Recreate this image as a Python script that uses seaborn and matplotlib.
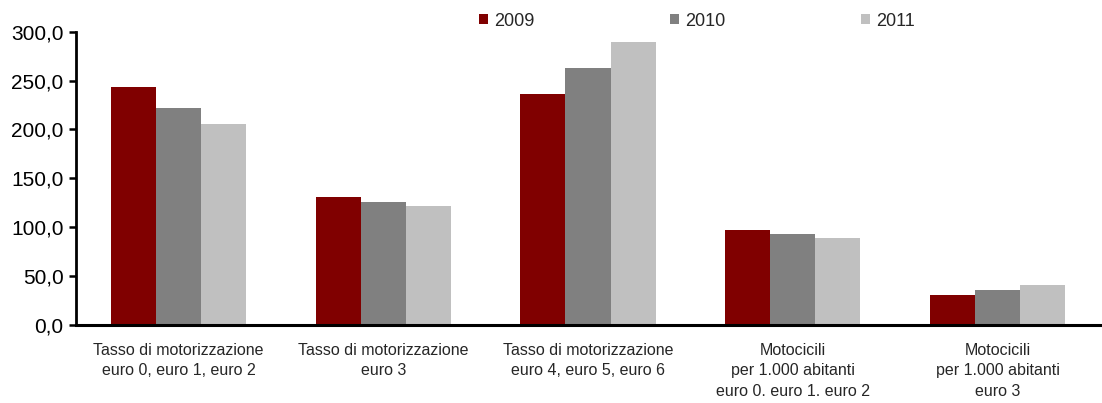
import pandas as pd
import seaborn as sns
import matplotlib.pyplot as plt
from matplotlib.ticker import FuncFormatter
from matplotlib.patches import Patch


# Data
categorie = [
    'Tasso di motorizzazione\neuro 0, euro 1, euro 2',
    'Tasso di motorizzazione\neuro 3',
    'Tasso di motorizzazione\neuro 4, euro 5, euro 6',
    'Motocicili\nper 1.000 abitanti\neuro 0. euro 1. euro 2',
    'Motocicili\nper 1.000 abitanti\neuro 3',
]
anni = ['2009', '2010', '2011']
val_2009 = [243.7, 131.0, 235.9, 97.0, 31.1]
val_2010 = [221.6, 126.0, 262.5, 92.8, 35.3]
val_2011 = [205.2, 122.0, 289.0, 88.7, 41.1]
colori = ['#800000', '#808080', '#C0C0C0']

# long format for seaborn
df = pd.DataFrame({
    'categoria': categorie * 3,
    'anno': [a for a in anni for _ in categorie],
    'valore': val_2009 + val_2010 + val_2011,
})

sns.set_style('white')
plt.rcParams['font.family'] = ['Liberation Sans', 'DejaVu Sans']

fig = plt.figure(figsize=(11.02, 4.03), dpi=100)
ax = fig.add_axes([76 / 1102, 1 - 325 / 403, 1024 / 1102, (325 - 31.7) / 403])

sns.barplot(data=df, x='categoria', y='valore', hue='anno', order=categorie,
            hue_order=anni, palette=colori, saturation=1, width=0.66,
            linewidth=0, ax=ax)

ax.set_xlim(-0.5, 4.5)
ax.set_ylim(0, 300)
ax.set_yticks(range(0, 301, 50))
ax.yaxis.set_major_formatter(FuncFormatter(lambda v, p: f'{v:.1f}'.replace('.', ',')))
ax.set_xlabel('')
ax.set_ylabel('')

for s in ['top', 'right']:
    ax.spines[s].set_visible(False)
ax.spines['left'].set_linewidth(2)
ax.spines['bottom'].set_linewidth(2.2)
ax.spines['left'].set_color('black')
ax.spines['bottom'].set_color('black')

ax.tick_params(axis='y', left=True, length=5, width=1.8, direction='out',
               labelsize=15, pad=4, colors='black')
ax.tick_params(axis='x', bottom=False, length=0, pad=13)
for lab in ax.get_xticklabels():
    lab.set_fontsize(11.5)
    lab.set_linespacing(1.45)
    lab.set_verticalalignment('top')

ax.legend_.remove()
handles = [Patch(facecolor=c, edgecolor='none') for c in colori]
fig.legend(handles, anni, loc='center left', bbox_to_anchor=(479 / 1102, 1 - 21 / 403),
           ncol=3, frameon=False, prop={'size': 13},
           handlelength=0.5, handleheight=0.5, handletextpad=0.35,
           columnspacing=7.5, borderpad=0, borderaxespad=0)

fig.savefig('out.png', dpi=100)
